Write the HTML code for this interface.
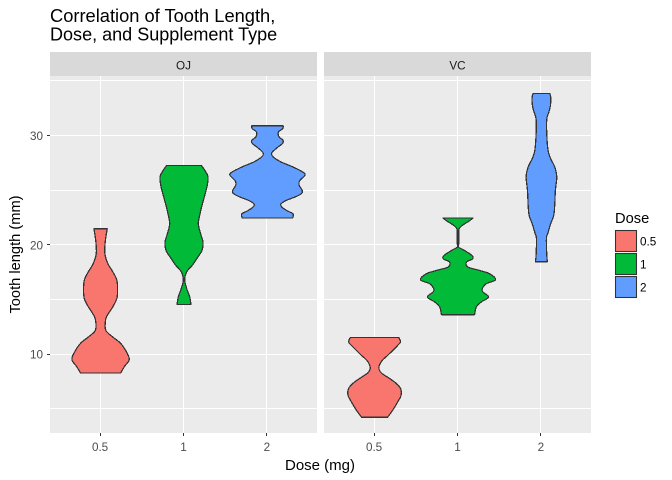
<!DOCTYPE html>
<html>
<head>
<meta charset="utf-8">
<title>Correlation of Tooth Length, Dose, and Supplement Type</title>
<style>
html,body{margin:0;padding:0;background:#fff;}
svg{display:block;}
text{font-family:"Liberation Sans",Arial,sans-serif;}
</style>
</head>
<body>
<svg id="chart" xmlns="http://www.w3.org/2000/svg" width="672" height="480" viewBox="0 0 672 480">
<rect x="0" y="0" width="672" height="480" fill="#fff"/>
<text x="50" y="22" font-size="18.3" fill="#000">Correlation of Tooth Length,</text>
<text x="50" y="40.5" font-size="18.05" fill="#000">Dose, and Supplement Type</text>
<rect x="50" y="52" width="267" height="24" fill="#d9d9d9"/>
<rect x="324" y="52" width="267" height="24" fill="#d9d9d9"/>
<text x="183.5" y="69.5" font-size="11.7" fill="#1a1a1a" text-anchor="middle">OJ</text>
<text x="457.5" y="69.5" font-size="11.7" fill="#1a1a1a" text-anchor="middle">VC</text>
<rect x="50" y="76" width="267" height="357" fill="#ebebeb"/>
<rect x="324" y="76" width="267" height="357" fill="#ebebeb"/>
<g id="grid"></g>
<g id="marks"></g>
<g id="axes"></g>
<text x="320" y="470" font-size="15" fill="#000" text-anchor="middle">Dose (mg)</text>
<text transform="translate(20 254.5) rotate(-90)" font-size="14.67" fill="#000" text-anchor="middle">Tooth length (mm)</text>
<text x="615" y="223" font-size="14.67" fill="#000">Dose</text>
<g id="legend"></g>
</svg>
<script>
var doseLabels = ['0.5', '1', '2'];
var supplements = ['OJ', 'VC'];
var doseColors = ['#F8766D', '#00BA38', '#619CFF'];
var majorTicks = [10, 20, 30];
var minorTicks = [5, 15, 25, 35];

var ojLen05 = [21.48,20.26,19.2,18.29,17.53,16.77,15.86,15.1,14.34,13.43,12.82,12.16,11.61,11.0,10.09,9.48,8.88,8.27];
var ojDen05 = [.177,.124,.115,.195,.327,.434,.452,.434,.327,.16,.124,.142,.31,.532,.709,.762,.638,.532];
var ojLen1 = [27.27,26.84,26.24,25.48,24.72,23.5,22.84,21.93,21.02,20.26,19.5,18.9,18.14,17.53,16.77,16.01,15.25,14.55];
var ojDen1 = [.461,.55,.638,.62,.567,.47,.426,.381,.443,.505,.479,.372,.222,.071,.018,.071,.151,.186];
var ojLen2 = [30.91,30.64,30.33,29.88,29.57,29.27,28.91,28.42,28.06,27.6,27.15,26.69,26.39,25.87,25.48,25.02,24.72,24.41,24.05,23.72,23.44,23.11,22.84,22.47];
var ojDen2 = [.417,.408,.293,.31,.417,.399,.266,.115,.151,.355,.665,.931,1.0,.86,.842,.922,.913,.754,.488,.355,.39,.532,.683,.674];
var vcLen05 = [11.52,11.12,10.82,10.36,9.91,9.39,8.79,8.3,7.78,7.33,6.87,6.27,5.66,4.9,4.23];
var vcDen05 = [.647,.691,.621,.488,.355,.195,.115,.177,.399,.576,.691,.709,.621,.488,.346];
var vcLen1 = [22.46,22.22,21.76,21.46,21.0,20.09,19.79,19.48,19.03,18.72,18.42,17.97,17.66,17.36,16.81,16.45,15.99,15.69,15.23,14.78,14.32,13.62];
var vcDen1 = [.399,.31,.106,.027,.018,.018,.018,.177,.372,.39,.222,.266,.576,.842,1.0,.754,.647,.665,.816,.621,.488,.443];
var vcLen2 = [33.86,33.49,32.73,32.13,31.52,30.15,28.63,27.87,27.12,26.21,25,22.87,21.96,21.04,20.59,19.07,18.46];
var vcDen2 = [.222,.248,.239,.195,.142,.142,.177,.248,.355,.408,.372,.337,.248,.168,.133,.142,.16];

var violinLengths = [[ojLen05, ojLen1, ojLen2], [vcLen05, vcLen1, vcLen2]];
var violinDensities = [[ojDen05, ojDen1, ojDen2], [vcDen05, vcDen1, vcDen2]];

var NS = 'http://www.w3.org/2000/svg';
var panelLefts = [50, 324];
var panelWidth = 267;
var panelTop = 76;
var panelBottom = 433;
var step = panelWidth / 3.2;

function xScale(panel, index) {
  return panelLefts[panel] + (index + 0.6) * step;
}
function yScale(value) {
  return 354.2 - (value - 10) * 10.93;
}
function widthScale(density) {
  return density * 0.45 * step;
}
function make(tag, parent) {
  var el = document.createElementNS(NS, tag);
  parent.appendChild(el);
  return el;
}
function smoothSegments(pts) {
  var d = '';
  for (var i = 0; i < pts.length - 1; i++) {
    var p0 = pts[Math.max(i - 1, 0)];
    var p1 = pts[i];
    var p2 = pts[i + 1];
    var p3 = pts[Math.min(i + 2, pts.length - 1)];
    var c1x = p1[0] + (p2[0] - p0[0]) / 6;
    var c1y = p1[1] + (p2[1] - p0[1]) / 6;
    var c2x = p2[0] - (p3[0] - p1[0]) / 6;
    var c2y = p2[1] - (p3[1] - p1[1]) / 6;
    d += ' C' + c1x.toFixed(2) + ',' + c1y.toFixed(2) + ' ' + c2x.toFixed(2) + ',' + c2y.toFixed(2) + ' ' + p2[0].toFixed(2) + ',' + p2[1].toFixed(2);
  }
  return d;
}

var grid = document.getElementById('grid');
var marks = document.getElementById('marks');
var axes = document.getElementById('axes');
var legend = document.getElementById('legend');

supplements.forEach(function (sup, p) {
  minorTicks.forEach(function (v) {
    var el = make('rect', grid);
    
    
    el.setAttribute('x', panelLefts[p]);
    el.setAttribute('y', Math.floor(yScale(v)));
    el.setAttribute('width', panelWidth);
    el.setAttribute('height', 1);
    el.setAttribute('fill', '#fff');
  });
  majorTicks.forEach(function (v) {
    var el = make('rect', grid);
    
    
    el.setAttribute('x', panelLefts[p]);
    el.setAttribute('y', Math.floor(yScale(v)));
    el.setAttribute('width', panelWidth);
    el.setAttribute('height', 1);
    el.setAttribute('fill', '#fff');
  });
  doseLabels.forEach(function (d, i) {
    var el = make('rect', grid);
    
    
    el.setAttribute('x', Math.floor(xScale(p, i)));
    el.setAttribute('y', panelTop);
    el.setAttribute('width', 1);
    el.setAttribute('height', panelBottom - panelTop);
    el.setAttribute('fill', '#fff');

    var tick = make('rect', axes);
    
    
    tick.setAttribute('x', Math.floor(xScale(p, i)));
    tick.setAttribute('y', panelBottom);
    tick.setAttribute('width', 1);
    tick.setAttribute('height', 3);
    tick.setAttribute('fill', '#333');

    var label = make('text', axes);
    
    
    label.setAttribute('x', xScale(p, i));
    label.setAttribute('y', 451);
    label.setAttribute('font-size', '11.7');
    label.setAttribute('fill', '#4d4d4d');
    label.setAttribute('text-anchor', 'middle');
    label.textContent = d;

    var lengths = violinLengths[p][i];
    var densities = violinDensities[p][i];
    var right = lengths.map(function (v, k) {
      return [xScale(p, i) + widthScale(densities[k]) + 0.5, yScale(v)];
    });
    var left = lengths.map(function (v, k) {
      return [xScale(p, i) - widthScale(densities[k]) + 0.5, yScale(v)];
    }).reverse();
    var violin = make('path', marks);
    
    
    violin.setAttribute('d', 'M' + right[0][0].toFixed(2) + ',' + right[0][1].toFixed(2) + smoothSegments(right) + ' L' + left[0][0].toFixed(2) + ',' + left[0][1].toFixed(2) + smoothSegments(left) + ' Z');
    violin.setAttribute('fill', doseColors[i]);
    violin.setAttribute('stroke', '#333');
    violin.setAttribute('stroke-width', '1.25');
    violin.setAttribute('stroke-linejoin', 'round');
    violin.setAttribute('shape-rendering', 'crispEdges');
  });
});

majorTicks.forEach(function (v) {
  var tick = make('rect', axes);
  
  
  tick.setAttribute('x', 47);
  tick.setAttribute('y', Math.floor(yScale(v)));
  tick.setAttribute('width', 3);
  tick.setAttribute('height', 1);
  tick.setAttribute('fill', '#333');

  var label = make('text', axes);
  
  
  label.setAttribute('x', 43);
  label.setAttribute('y', yScale(v) + 4.5);
  label.setAttribute('font-size', '11.7');
  label.setAttribute('fill', '#4d4d4d');
  label.setAttribute('text-anchor', 'end');
  label.textContent = v;
});

doseLabels.forEach(function (d, i) {
  var key = make('rect', legend);
  
  
  key.setAttribute('x', 615.5);
  key.setAttribute('y', 230.5 + i * 23);
  key.setAttribute('width', 21);
  key.setAttribute('height', 21);
  key.setAttribute('fill', doseColors[i]);
  key.setAttribute('stroke', '#333');
  key.setAttribute('stroke-width', '1.07');

  var label = make('text', legend);
  
  
  label.setAttribute('x', 640);
  label.setAttribute('y', 245.5 + i * 23);
  label.setAttribute('font-size', '11.7');
  label.setAttribute('fill', '#000');
  label.textContent = d;
});
</script>
</body>
</html>
